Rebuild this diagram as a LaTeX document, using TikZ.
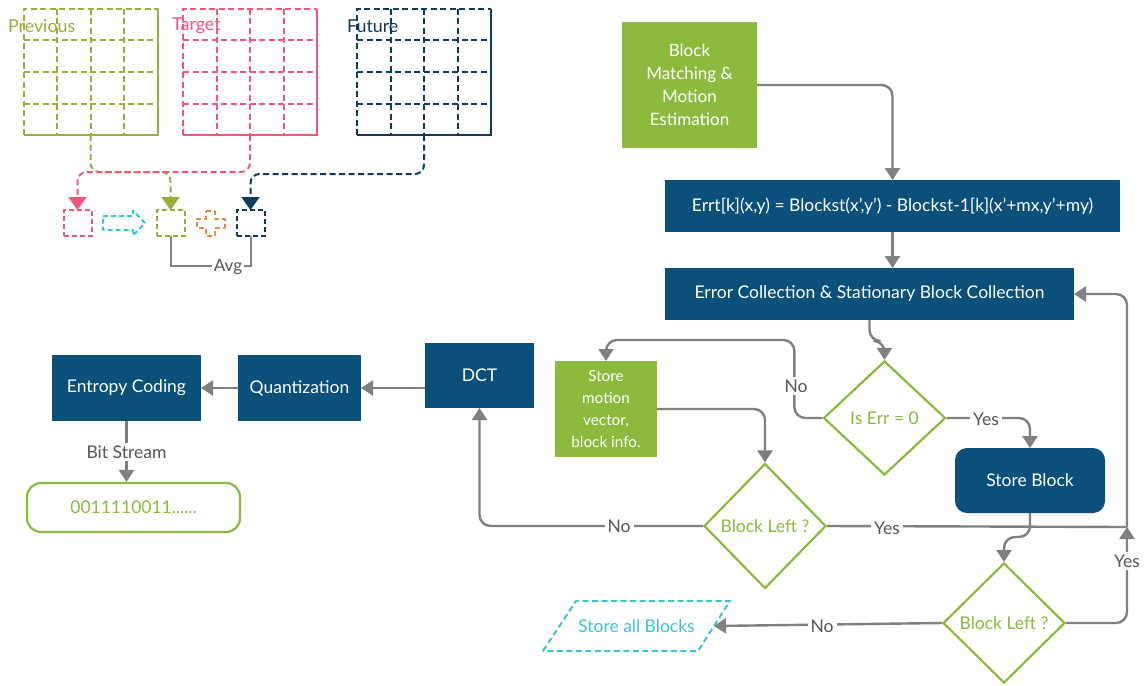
\documentclass[tikz,border=0pt]{standalone}
\usepackage{fontspec}
\setmainfont{Lato}
\usetikzlibrary{arrows.meta,shapes.geometric,calc}

\definecolor{navy}{HTML}{0A507A}
\definecolor{leaf}{HTML}{8DB93C}
\definecolor{olive}{HTML}{9AAE3A}
\definecolor{rose}{HTML}{F2557D}
\definecolor{deep}{HTML}{0D3C5A}
\definecolor{aqua}{HTML}{3EC3D3}
\definecolor{tang}{HTML}{F0893A}
\definecolor{wire}{HTML}{808080}
\definecolor{ink}{HTML}{555555}

% 4x4 frame: dashed top/left and inner lines, solid right/bottom
\newcommand{\framegrid}[2]{%
  \draw[#2, line width=2pt, dash pattern=on 6pt off 3.5pt]
    (#1.south west) -- (#1.north west) -- (#1.north east);
  \draw[#2, line width=2pt] (#1.north east) -- (#1.south east) -- (#1.south west);
  \foreach \f in {0.25,0.5,0.75}{
    \draw[#2, line width=2pt, dash pattern=on 6pt off 3.5pt]
      ($(#1.north west)!\f!(#1.north east)$) -- ($(#1.south west)!\f!(#1.south east)$)
      ($(#1.north west)!\f!(#1.south west)$) -- ($(#1.north east)!\f!(#1.south east)$);
  }}

\begin{document}
\begin{tikzpicture}[x=1pt,y=-1pt,
  frame/.style={inner sep=0pt, outer sep=0pt, minimum width=134, minimum height=126},
  framelabel/.style={anchor=west, inner sep=0pt, font=\fontsize{17.8}{20}\selectfont},
  cell/.style={draw=#1, line width=2pt, dash pattern=on 5pt off 3pt,
    minimum width=28, minimum height=26, inner sep=0pt, outer sep=0pt},
  feed/.style={draw=#1, line width=2pt, dash pattern=on 6pt off 3.5pt, rounded corners=9pt,
    -{Triangle[length=13pt,width=18pt,fill=#1]}},
  navybox/.style={fill=navy, text=white, inner sep=0pt, outer sep=0pt,
    font=\fontsize{17.5}{20}\selectfont, align=center},
  leafbox/.style={fill=leaf, text=white, inner sep=0pt, outer sep=0pt, align=center},
  test/.style={diamond, draw=leaf, line width=2.2pt, text=leaf, inner sep=0pt,
    minimum width=122, font=\fontsize{17.5}{20}\selectfont},
  conn/.style={draw=wire, line width=2.4pt, rounded corners=11pt},
  tip/.style={-{Triangle[length=12pt,width=15pt]}},
  tag/.style={fill=white, text=ink, inner sep=3pt, font=\fontsize{17.5}{20}\selectfont}]

\useasboundingbox[fill=white] (0,0) rectangle (1145,685);

% ---------- reference frames ----------
\node[frame] (prev) at (90.5,72) {};
\node[frame] (targ) at (250,72) {};
\node[frame] (fut)  at (424,72) {};
\framegrid{prev}{olive}
\framegrid{targ}{rose}
\framegrid{fut}{deep}
\node[framelabel, text=olive] (lprev) at (8,26) {Previous};
\node[framelabel, text=rose]  (ltarg) at (172,26) {Target};
\node[framelabel, text=deep]  (lfut)  at (347,26) {Future};

% ---------- small blocks ----------
\node[cell=rose]  (pbox) at (77.5,223) {};
\node[cell=olive] (gbox) at (170.5,223) {};
\node[cell=deep]  (nbox) at (250.5,223) {};

\draw[feed=olive] (prev.south) -- ++(0,37) -| (gbox.north);
\draw[feed=rose]  (targ.south) -- ++(0,37) -| (pbox.north);
\draw[feed=deep]  (fut.south)  -- ++(0,39) -| (nbox.north);

% dashed outline arrow
\draw[aqua, line width=2pt, dash pattern=on 5pt off 3pt, line join=round]
  (103,216) -- (133,216) -- (133,210.5) -- (145,223) -- (133,235.5) -- (133,230)
  -- (103,230) -- cycle;
% dashed outline plus
\draw[tang, line width=2pt, dash pattern=on 5pt off 3pt, line join=round]
  (206,210.5) -- (215,210.5) -- (215,218.5) -- (224.5,218.5) -- (224.5,227.5)
  -- (215,227.5) -- (215,235.5) -- (206,235.5) -- (206,227.5) -- (196.5,227.5)
  -- (196.5,218.5) -- (206,218.5) -- cycle;

% average bracket
\draw[wire, line width=2pt] (gbox.south) -- ++(0,30) -| (nbox.south);
\node[fill=white, text=ink, inner sep=1.5pt, font=\fontsize{17}{20}\selectfont]
  (avg) at (228,267) {Avg};

% ---------- coding chain ----------
\node[leafbox, minimum width=135, minimum height=126,
  font=\fontsize{17}{23}\selectfont] (bm) at (689.5,85)
  {Block\\Matching \&\\Motion\\Estimation};
\node[navybox, minimum width=455, minimum height=52] (err) at (892.5,206)
  {Errt[k](x,y) = Blockst(x',y') - Blockst-1[k](x'+mx,y'+my)};
\node[navybox, minimum width=409, minimum height=52] (ec) at (869.5,294)
  {Error Collection \& Stationary Block Collection};
\node[test, minimum height=114] (iserr) at (884.5,418) {Is Err = 0};
\node[leafbox, minimum width=102, minimum height=96,
  font=\fontsize{15.3}{22}\selectfont] (sm) at (606,409)
  {Store\\motion\\vector,\\block info.};
\node[navybox, rounded corners=12pt, minimum width=150, minimum height=65] (sb)
  at (1030,480.5) {Store Block};
\node[test, minimum height=125] (bl1) at (765,526) {Block Left ?};
\node[test, minimum height=120] (bl2) at (1004,623) {Block Left ?};

% slanted output box
\node[text=aqua, inner sep=0pt, font=\fontsize{17.5}{20}\selectfont]
  (sab) at (636.5,626) {Store all Blocks};
\draw[aqua, line width=2pt, dash pattern=on 6pt off 3.5pt, line join=round]
  ($(sab)+(-93.5,25)$) -- ($(sab)+(-60.5,-25)$) -- ($(sab)+(93.5,-25)$)
  -- ($(sab)+(61.5,25)$) -- cycle;
\coordinate (sabin) at ($(sab)+(77.5,0)$);

\node[navybox, minimum width=109, minimum height=65] (dct) at (479.5,375.5) {DCT};
\node[navybox, minimum width=123, minimum height=66] (quant) at (299.5,388) {Quantization};
\node[navybox, minimum width=149, minimum height=66] (ent) at (126.5,388) {Entropy Coding};
\node[draw=leaf, line width=2.2pt, rounded corners=14pt, text=leaf, inner sep=0pt,
  minimum width=213, minimum height=49, font=\fontsize{17.5}{20}\selectfont]
  (bits) at (133.5,507.5) {0011110011......};

\coordinate (jn) at (1127,527);

% ---------- connectors ----------
\draw[conn, tip] (bm.east) -| (err.north);
\draw[conn, tip] (err.south) -- (err.south |- ec.north);
\draw[conn, tip] (ec.south) -- ++(0,21) -| (iserr.north);
\draw[conn, tip] (iserr.west) -- ++(-28,0) |- ($(sm.north)+(0,-21)$) -- (sm.north);
\draw[conn, tip] (iserr.east) -| (sb.north);
\draw[conn, tip] (sm.east) -| (bl1.north);
\draw[conn, tip] (bl1.west) -| (dct.south);
\draw[conn] (bl1.east) -- (jn);
\draw[conn, tip] (jn) |- (ec.east);
\draw[conn, tip] (sb.south) -- ++(0,24) -| (bl2.north);
\draw[conn, tip] (bl2.east) -| (jn);
\draw[conn, tip] (bl2.west) -- (sabin);
\draw[conn, tip] (dct.west |- quant.east) -- (quant.east);
\draw[conn, tip] (quant.west) -- (ent.east);
\draw[conn, tip] (ent.south) -- (ent.south |- bits.north);

% ---------- branch labels ----------
\node[tag] (no1)  at (796,386) {No};
\node[tag] (yes1) at (986,419) {Yes};
\node[tag] (no2)  at (619,526) {No};
\node[tag] (yes2) at (887,528) {Yes};
\node[tag] (yes3) at (1127,561) {Yes};
\node[tag] (no3)  at (822,626) {No};
\node[tag] (bs)   at (126.5,452) {Bit Stream};

\end{tikzpicture}
\end{document}
